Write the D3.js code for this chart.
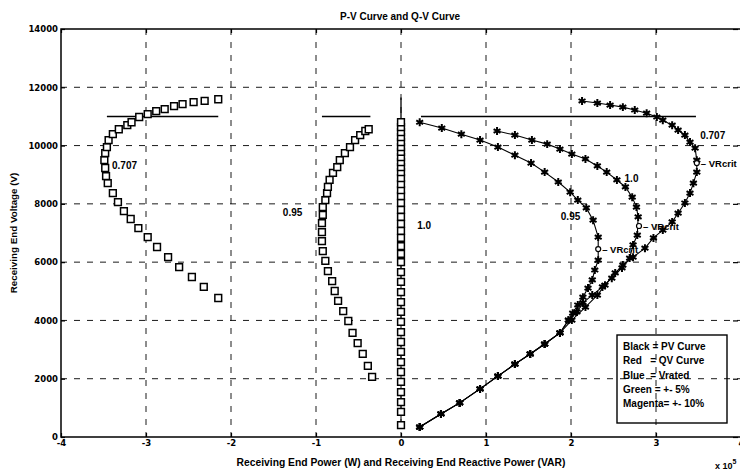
<!DOCTYPE html>
<html>
<head>
<meta charset="utf-8">
<script src="https://cdn.jsdelivr.net/npm/d3@7"></script>
<style>
  body { margin: 0; background: #fff; }
  svg { display: block; font-family: "Liberation Sans", Arial, sans-serif; }
</style>
</head>
<body>
<svg></svg>
<script>
const svgWidth = 740
const svgHeight = 472
const margins = { top: 29, bottom: 35, left: 61, right: -1 }

// x in units of 10^5, y in volts
const xTicks = [-4, -3, -2, -1, 0, 1, 2, 3, 4]
const yTicks = [0, 2000, 4000, 6000, 8000, 10000, 12000, 14000]

// P-V curves (squares)
const pv0707 = [[-2.15, 4770], [-2.32, 5150], [-2.46, 5490], [-2.61, 5830], [-2.74, 6170], [-2.87, 6520],
  [-2.98, 6860], [-3.09, 7170], [-3.18, 7480], [-3.26, 7750], [-3.33, 8060], [-3.39, 8370], [-3.45, 8710],
  [-3.47, 8950], [-3.48, 9230], [-3.49, 9500], [-3.48, 9740], [-3.46, 9950], [-3.44, 10190], [-3.39, 10390],
  [-3.32, 10560], [-3.22, 10700], [-3.17, 10800], [-3.08, 10980], [-2.98, 11080], [-2.88, 11180],
  [-2.78, 11250], [-2.67, 11350], [-2.57, 11420], [-2.44, 11490], [-2.31, 11530], [-2.15, 11590]]
const pv095 = [[-0.34, 2060], [-0.39, 2440], [-0.45, 2850], [-0.51, 3220], [-0.57, 3570], [-0.62, 3980],
  [-0.68, 4320], [-0.74, 4670], [-0.78, 5010], [-0.81, 5350], [-0.86, 5690], [-0.89, 6040], [-0.92, 6380],
  [-0.93, 6720], [-0.93, 7030], [-0.93, 7340], [-0.92, 7620], [-0.92, 7890], [-0.89, 8130], [-0.87, 8370],
  [-0.86, 8580], [-0.84, 8820], [-0.80, 9060], [-0.75, 9260], [-0.72, 9500], [-0.66, 9740], [-0.60, 9950],
  [-0.54, 10190], [-0.48, 10360], [-0.42, 10500], [-0.38, 10560]]
const pv10 = [[0, 410], [0, 860], [0, 1200], [0, 1540], [0, 1890], [0, 2230], [0, 2570], [0, 2920],
  [0, 3260], [0, 3600], [0, 3950], [0, 4290], [0, 4630], [0, 4970], [0, 5320], [0, 5660], [0, 6000],
  [0, 6280], [0, 6550], [0, 6830], [0, 7070], [0, 7310], [0, 7550], [0, 7790], [0, 8030], [0, 8270],
  [0, 8470], [0, 8680], [0, 8880], [0, 9090], [0, 9260], [0, 9430], [0, 9600], [0, 9780], [0, 9950],
  [0, 10120], [0, 10290], [0, 10460], [0, 10630], [0, 10800]]
const pv10Stem = [[0, 10800], [0, 11650]]

// Q-V curves (asterisks)
const qvTail = [[1.87, 3570], [1.69, 3190], [1.52, 2850], [1.34, 2500], [1.14, 2090], [0.93, 1650],
  [0.69, 1170], [0.47, 790], [0.22, 340]]
const qv0707 = [[2.13, 11530], [2.31, 11460], [2.46, 11390], [2.61, 11320], [2.75, 11220], [2.89, 11110],
  [3.01, 10980], [3.08, 10870], [3.19, 10700], [3.26, 10530], [3.34, 10360], [3.40, 10120], [3.46, 9910],
  [3.48, 9500], [3.48, 9090], [3.44, 8710], [3.40, 8370], [3.34, 8030], [3.26, 7680], [3.19, 7380],
  [3.08, 7100], [2.97, 6830], [2.87, 6480], [2.73, 6170], [2.61, 5900], [2.52, 5630], [2.40, 5210],
  [2.31, 4870], [2.17, 4460], [2.01, 4010]]
const qv10 = [[1.13, 10500], [1.34, 10360], [1.54, 10190], [1.72, 10050], [1.87, 9880], [2.01, 9710],
  [2.17, 9540], [2.31, 9300], [2.42, 9090], [2.54, 8820], [2.64, 8580], [2.72, 8230], [2.77, 7890],
  [2.79, 7550], [2.78, 6930], [2.73, 6590], [2.69, 6140], [2.60, 5800], [2.48, 5450], [2.37, 5150],
  [2.25, 4870], [2.14, 4600], [2.07, 4290], [1.97, 4010]]
const qv095 = [[0.22, 10800], [0.48, 10600], [0.71, 10390], [0.93, 10190], [1.14, 9950], [1.34, 9670],
  [1.53, 9400], [1.69, 9090], [1.85, 8750], [1.99, 8400], [2.08, 8130], [2.18, 7860], [2.26, 7440],
  [2.32, 6860], [2.32, 6070], [2.28, 5730], [2.25, 5390], [2.20, 5110], [2.14, 4800], [2.08, 4530],
  [2.02, 4250], [1.97, 4010]]

// horizontal limit lines at 11000 V
const limitLines = [[[-3.46, 11000], [-2.15, 11000]], [[-0.93, 11000], [-0.36, 11000]], [[0.235, 11000], [3.47, 11000]]]

// critical voltage points
const vrCrit = [[3.48, 9400], [2.80, 7240], [2.32, 6450]]

const curveLabels = [
  { text: "0.707", x: -3.4, y: 9200 },
  { text: "0.95", x: -1.39, y: 7600 },
  { text: "1.0", x: 0.19, y: 7130 },
  { text: "0.95", x: 1.88, y: 7430 },
  { text: "1.0", x: 2.63, y: 8740 },
  { text: "0.707", x: 3.52, y: 10230 }
]
const legendLines = ["Black = PV Curve", "Red   = QV Curve", "Blue  = Vrated", "Green = +- 5%", "Magenta= +- 10%"]

const plotLeft = margins.left
const plotRight = svgWidth - margins.right
const plotTop = margins.top
const plotBottom = svgHeight - margins.bottom

const svg = d3.select("svg")
    .attr("width", svgWidth)
    .attr("height", svgHeight)

const xScale = d3.scaleLinear().domain([-4, 4]).range([plotLeft, plotRight])
const yScale = d3.scaleLinear().domain([0, 14000]).range([plotBottom, plotTop])

// grid
svg.append("g")
    .selectAll("line")
    .data(xTicks.filter((d) => d > -4 && d < 4))
    .join("line")
    .attr("x1", (d) => xScale(d)).attr("x2", (d) => xScale(d))
    .attr("y1", plotTop).attr("y2", plotBottom)
    .attr("stroke", "#000").attr("stroke-width", 0.9).attr("stroke-dasharray", "6,7")
svg.append("g")
    .selectAll("line")
    .data(yTicks.filter((d) => d > 0 && d < 14000))
    .join("line")
    .attr("x1", plotLeft).attr("x2", plotRight)
    .attr("y1", (d) => yScale(d)).attr("y2", (d) => yScale(d))
    .attr("stroke", "#000").attr("stroke-width", 0.9).attr("stroke-dasharray", "6,7")

// axes
const xAxis = svg.append("g")
    .attr("transform", `translate(0,${plotBottom})`)
    .call(d3.axisBottom(xScale).tickValues(xTicks).tickFormat(d3.format("d")).tickSizeInner(-4).tickSizeOuter(0).tickPadding(3))
const yAxis = svg.append("g")
    .attr("transform", `translate(${plotLeft},0)`)
    .call(d3.axisLeft(yScale).tickValues(yTicks).tickFormat(d3.format("d")).tickSizeInner(-4).tickSizeOuter(0).tickPadding(3))
svg.append("g")
    .attr("transform", `translate(0,${plotTop})`)
    .call(d3.axisTop(xScale).tickValues(xTicks).tickFormat("").tickSizeInner(-4).tickSizeOuter(0))
svg.append("g")
    .attr("transform", `translate(${svgWidth - 2},0)`)
    .call(d3.axisRight(yScale).tickValues(yTicks).tickFormat("").tickSizeInner(-5).tickSizeOuter(0))
svg.selectAll(".domain").remove()
svg.selectAll(".tick line").attr("stroke", "#000").attr("stroke-width", 1.2)
svg.selectAll(".tick text")
    .attr("font-size", 8.5)
    .attr("font-weight", "bold")
    .attr("font-family", "DejaVu Sans, sans-serif")
    .attr("fill", "#000")
xAxis.selectAll(".tick text").text((d) => d < 0 ? "-" + Math.abs(d) : d)

// box
svg.append("path")
    .attr("d", `M${plotRight},${plotTop}H${plotLeft}V${plotBottom}H${plotRight}`)
    .attr("fill", "none").attr("stroke", "#000").attr("stroke-width", 1.5)

const line = d3.line().x((d) => xScale(d[0])).y((d) => yScale(d[1]))

// limit lines
svg.append("g")
    .selectAll("path")
    .data(limitLines)
    .join("path")
    .attr("d", line)
    .attr("fill", "none").attr("stroke", "#000").attr("stroke-width", 1.6)

// center stem and line through 1.0 P-V squares
svg.append("path").attr("d", line(pv10Stem)).attr("stroke", "#000").attr("stroke-width", 1.3).attr("fill", "none")
svg.append("path").attr("d", line(pv10)).attr("stroke", "#000").attr("stroke-width", 1).attr("fill", "none")

// P-V squares
const squareSymbol = d3.symbol(d3.symbolSquare, 46)
;[pv0707, pv095, pv10].forEach((series) => {
    svg.append("g")
        .selectAll("path")
        .data(series)
        .join("path")
        .attr("transform", (d) => `translate(${xScale(d[0])},${yScale(d[1])})`)
        .attr("d", squareSymbol)
        .attr("fill", "#fff")
        .attr("stroke", "#000")
        .attr("stroke-width", 1.5)
})

// Q-V curves
const starSymbol = d3.symbol(d3.symbolAsterisk, 44)
;[qv0707, qv10, qv095].forEach((series) => {
    const full = series.concat(qvTail)
    svg.append("path")
        .attr("d", line(full))
        .attr("fill", "none").attr("stroke", "#000").attr("stroke-width", 1.1)
    svg.append("g")
        .selectAll("path")
        .data(full)
        .join("path")
        .attr("transform", (d) => `translate(${xScale(d[0])},${yScale(d[1])})`)
        .attr("d", starSymbol)
        .attr("fill", "none")
        .attr("stroke", "#000")
        .attr("stroke-width", 2)
})

// VRcrit markers
svg.append("g")
    .selectAll("circle")
    .data(vrCrit)
    .join("circle")
    .attr("cx", (d) => xScale(d[0])).attr("cy", (d) => yScale(d[1]))
    .attr("r", 2.5)
    .attr("fill", "#fff").attr("stroke", "#000").attr("stroke-width", 1.2)
svg.append("g")
    .selectAll("text")
    .data(vrCrit)
    .join("text")
    .attr("x", (d) => xScale(d[0]) + 4).attr("y", (d) => yScale(d[1]) + 3.5)
    .text("\u2013 VRcrit")
    .attr("font-size", 9.5).attr("font-weight", "bold")

// curve labels
svg.append("g")
    .selectAll("text")
    .data(curveLabels)
    .join("text")
    .attr("x", (d) => xScale(d.x)).attr("y", (d) => yScale(d.y))
    .text((d) => d.text)
    .attr("font-size", 10).attr("font-weight", "bold")

// legend
const legend = svg.append("g").attr("transform", "translate(617,335)")
legend.append("rect")
    .attr("width", 110).attr("height", 88)
    .attr("fill", "none").attr("stroke", "#000").attr("stroke-width", 1.4)
legend.selectAll("text")
    .data(legendLines)
    .join("text")
    .attr("x", 6)
    .attr("y", (d, i) => 15 + i * 14.3)
    .attr("xml:space", "preserve")
    .style("white-space", "pre")
    .text((d) => d)
    .attr("font-size", 10).attr("font-weight", "bold")

// titles
svg.append("text")
    .text("P-V Curve and Q-V Curve")
    .attr("x", 400).attr("y", 20)
    .attr("text-anchor", "middle")
    .attr("font-size", 10).attr("font-weight", "bold")
svg.append("text")
    .text("Receiving End Power (W) and Receiving End Reactive Power (VAR)")
    .attr("x", 401).attr("y", 466)
    .attr("text-anchor", "middle")
    .attr("font-size", 10.3).attr("font-weight", "bold")
svg.append("text")
    .text("Receiving End Voltage (V)")
    .attr("transform", "translate(17,233) rotate(-90)")
    .attr("text-anchor", "middle")
    .attr("font-size", 9.8).attr("font-weight", "bold")
const expo = svg.append("text").attr("x", 715).attr("y", 469).attr("font-size", 9).attr("font-weight", "bold")
expo.append("tspan").text("x 10")
expo.append("tspan").text("5").attr("dy", -5).attr("font-size", 7)
</script>
</body>
</html>
